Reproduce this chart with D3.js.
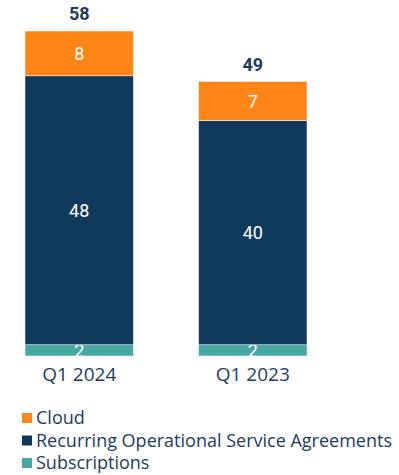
<!DOCTYPE html>
<html>
<head>
<meta charset="utf-8">
<script src="https://cdn.jsdelivr.net/npm/d3@7"></script>
<style>
  body { margin: 0; background: #fff; }
  text { font-family: Roboto, "Liberation Sans", sans-serif; }
  .wide { font-family: "Open Sans", Roboto, sans-serif; }
</style>
</head>
<body>
<div id="chart"></div>
<script>
const width = 399,
  height = 475;

const categories = ["Q1 2024", "Q1 2023"];
const seriesNames = ["Subscriptions", "Recurring Operational Service Agreements", "Cloud"];
const subscriptions = [2, 2];
const recurring = [48, 40];
const cloud = [8, 7];
const totals = [58, 49];
const legendOrder = ["Cloud", "Recurring Operational Service Agreements", "Subscriptions"];

const colors = {
  "Cloud": "#ff8516",
  "Recurring Operational Service Agreements": "#0f3a5c",
  "Subscriptions": "#47a7a3"
};
const textColor = "#1c3d5e";

const rows = categories.map((c, i) => ({
  cat: c,
  "Subscriptions": subscriptions[i],
  "Recurring Operational Service Agreements": recurring[i],
  "Cloud": cloud[i],
  total: totals[i]
}));

const stack = d3.stack().keys(seriesNames);
const series = stack(rows);

const svg = d3.select("#chart")
  .append("svg")
  .attr("width", width)
  .attr("height", height);

const xScale = d3.scaleBand()
  .domain(categories)
  .range([25, 307])
  .paddingInner(0.375);

const yScale = d3.scaleLinear()
  .domain([0, 58])
  .range([356, 31]);

const groups = svg.selectAll(".series")
  .data(series)
  .join("g")
  .attr("class", "series")
  .attr("fill", d => colors[d.key]);

groups.selectAll("rect")
  .data(d => d)
  .join("rect")
  .attr("x", d => xScale(d.data.cat))
  .attr("width", xScale.bandwidth())
  .attr("y", d => yScale(d[1]))
  .attr("height", d => yScale(d[0]) - yScale(d[1]))
  .attr("stroke", "#fff")
  .attr("stroke-width", 0.5);

// segment labels
groups.selectAll(".seg-label")
  .data(d => d)
  .join("text")
  .attr("class", "seg-label")
  .attr("x", d => xScale(d.data.cat) + xScale.bandwidth() / 2)
  .attr("y", d => (yScale(d[0]) + yScale(d[1])) / 2)
  .attr("dy", "0.36em")
  .attr("text-anchor", "middle")
  .attr("fill", "#fff")
  .attr("font-size", 18)
  .text(d => d[1] - d[0]);

// totals
svg.selectAll(".total")
  .data(rows)
  .join("text")
  .attr("class", "total")
  .attr("x", d => xScale(d.cat) + xScale.bandwidth() / 2)
  .attr("y", d => yScale(d.total) - 17)
  .attr("dy", "0.36em")
  .attr("text-anchor", "middle")
  .attr("fill", textColor)
  .attr("font-size", 18)
  .attr("font-weight", "bold")
  .text(d => d.total);

// x axis labels
const xAxis = d3.axisBottom(xScale).tickSize(0).tickPadding(12);
svg.append("g")
  .attr("class", "axis x-axis")
  .attr("transform", "translate(0,356)")
  .call(xAxis)
  .call(g => g.select(".domain").remove())
  .selectAll("text")
  .attr("class", "wide")
  .attr("fill", textColor)
  .attr("font-size", 19);

// legend
const legend = svg.append("g")
  .attr("transform", "translate(22,418)");

const items = legend.selectAll(".legend-item")
  .data(legendOrder)
  .join("g")
  .attr("class", "legend-item")
  .attr("transform", (d, i) => `translate(0,${i * 22.5})`);

items.append("rect")
  .attr("x", 0)
  .attr("y", -5)
  .attr("width", 10)
  .attr("height", 10)
  .attr("fill", d => colors[d]);

items.append("text")
  .attr("class", "wide")
  .attr("x", 14)
  .attr("y", 0)
  .attr("dy", "0.36em")
  .attr("fill", textColor)
  .attr("font-size", 18)
  .text(d => d);
</script>
</body>
</html>
